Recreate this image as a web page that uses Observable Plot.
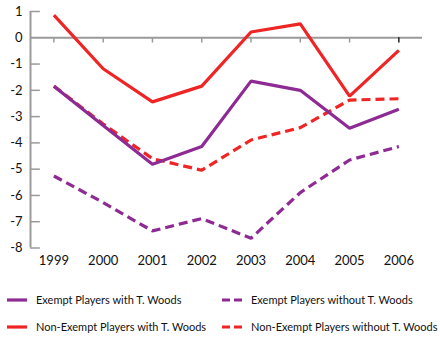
<!DOCTYPE html>
<html>
<head>
<meta charset="utf-8">
<script src="https://cdn.jsdelivr.net/npm/d3@7"></script>
<script src="https://cdn.jsdelivr.net/npm/@observablehq/plot@0.6"></script>
<style>
  html, body { margin: 0; padding: 0; background: #fff; }
  body { width: 440px; height: 350px; overflow: hidden; font-family: Lato, "Open Sans", sans-serif; }
  #legend { display: grid; grid-template-columns: 215px 225px; row-gap: 14px; margin-top: 18px; font-size: 11px; line-height: 13px; color: #111; }
  .item { display: flex; align-items: center; white-space: nowrap; }
  .item svg { margin-left: 7px; margin-right: 9px; flex: none; }
</style>
</head>
<body>
<div id="chart"></div>
<div id="legend"></div>
<script>
const years = [1999, 2000, 2001, 2002, 2003, 2004, 2005, 2006];
const yTicks = [1, 0, -1, -2, -3, -4, -5, -6, -7, -8];

const exemptWith     = [-1.84, -3.34, -4.81, -4.14, -1.65, -2.00, -3.44, -2.72];
const exemptWithout  = [-5.26, -6.27, -7.35, -6.88, -7.63, -5.89, -4.65, -4.14];
const nonExemptWith  = [0.86, -1.18, -2.44, -1.84, 0.22, 0.53, -2.22, -0.48];
const nonExemptWithout = [-1.84, -3.28, -4.60, -5.04, -3.89, -3.42, -2.37, -2.32];

const seriesNames = [
  "Exempt Players with T. Woods",
  "Exempt Players without T. Woods",
  "Non-Exempt Players with T. Woods",
  "Non-Exempt Players without T. Woods"
];
const purple = "#8e2a94";
const red = "#ee2524";
const axisGray = "#9a9a9a";

const styles = {
  [seriesNames[0]]: {color: purple, dash: null},
  [seriesNames[1]]: {color: purple, dash: "9,5"},
  [seriesNames[2]]: {color: red, dash: null},
  [seriesNames[3]]: {color: red, dash: "9,5"}
};

const seriesValues = [exemptWith, exemptWithout, nonExemptWith, nonExemptWithout];
const data = seriesNames.map((name, i) => years.map((year, j) => ({name, year, value: seriesValues[i][j]})));

const xDomain = [1998.525, 2006.48];
const yDomain = [-8, 1];
const yTickLen = 0.2;
const xTickLen = 0.2;

function line(rows) {
  const s = styles[rows[0].name];
  return Plot.line(rows, {x: "year", y: "value", stroke: s.color, strokeWidth: 3.2, strokeDasharray: s.dash, strokeLinejoin: "miter", strokeLinecap: "butt"});
}

const chart = Plot.plot({
  width: 440,
  height: 275,
  marginLeft: 30,
  marginRight: 18,
  marginTop: 11,
  marginBottom: 27.5,
  style: {fontFamily: "Lato, 'Open Sans', sans-serif", fontSize: "13px", color: "#111", background: "#fff"},
  x: {type: "linear", domain: xDomain, axis: null},
  y: {type: "linear", domain: yDomain, axis: null},
  marks: [
    Plot.ruleX([xDomain[0]], {x: d => d, y1: yDomain[0], y2: yDomain[1], stroke: axisGray, strokeWidth: 2}),
    Plot.ruleY(yTicks.filter(d => d !== 0), {y: d => d, x1: xDomain[0], x2: xDomain[0] + yTickLen, stroke: axisGray, strokeWidth: 1.5}),
    Plot.ruleY([0], {y: d => d, x1: xDomain[0], x2: xDomain[1], stroke: axisGray, strokeWidth: 2}),
    Plot.ruleX(years.slice(0, 7), {x: d => d, y1: 0, y2: -xTickLen, stroke: axisGray, strokeWidth: 1.5}),
    Plot.ruleX(years.slice(7), {x: d => d, y1: 0, y2: -xTickLen, stroke: "#222", strokeWidth: 1.5}),
    Plot.text(yTicks, {x: xDomain[0], y: d => d, text: d => String(d), dx: -8, textAnchor: "end", fill: "#111"}),
    Plot.text(years, {x: d => d, y: yDomain[0], text: d => String(d), dy: 13, fill: "#111"}),
    line(data[1]),
    line(data[3]),
    line(data[2]),
    line(data[0])
  ]
});
document.getElementById("chart").append(chart);

const legend = document.getElementById("legend");
for (const name of seriesNames) {
  const s = styles[name];
  const div = document.createElement("div");
  div.className = "item";
  div.innerHTML = `<svg width="20" height="6"><line x1="0" y1="3" x2="20" y2="3" stroke="${s.color}" stroke-width="3.2" ${s.dash ? 'stroke-dasharray="8,4"' : ''}/></svg><span>${name}</span>`;
  legend.append(div);
}
</script>
</body>
</html>
